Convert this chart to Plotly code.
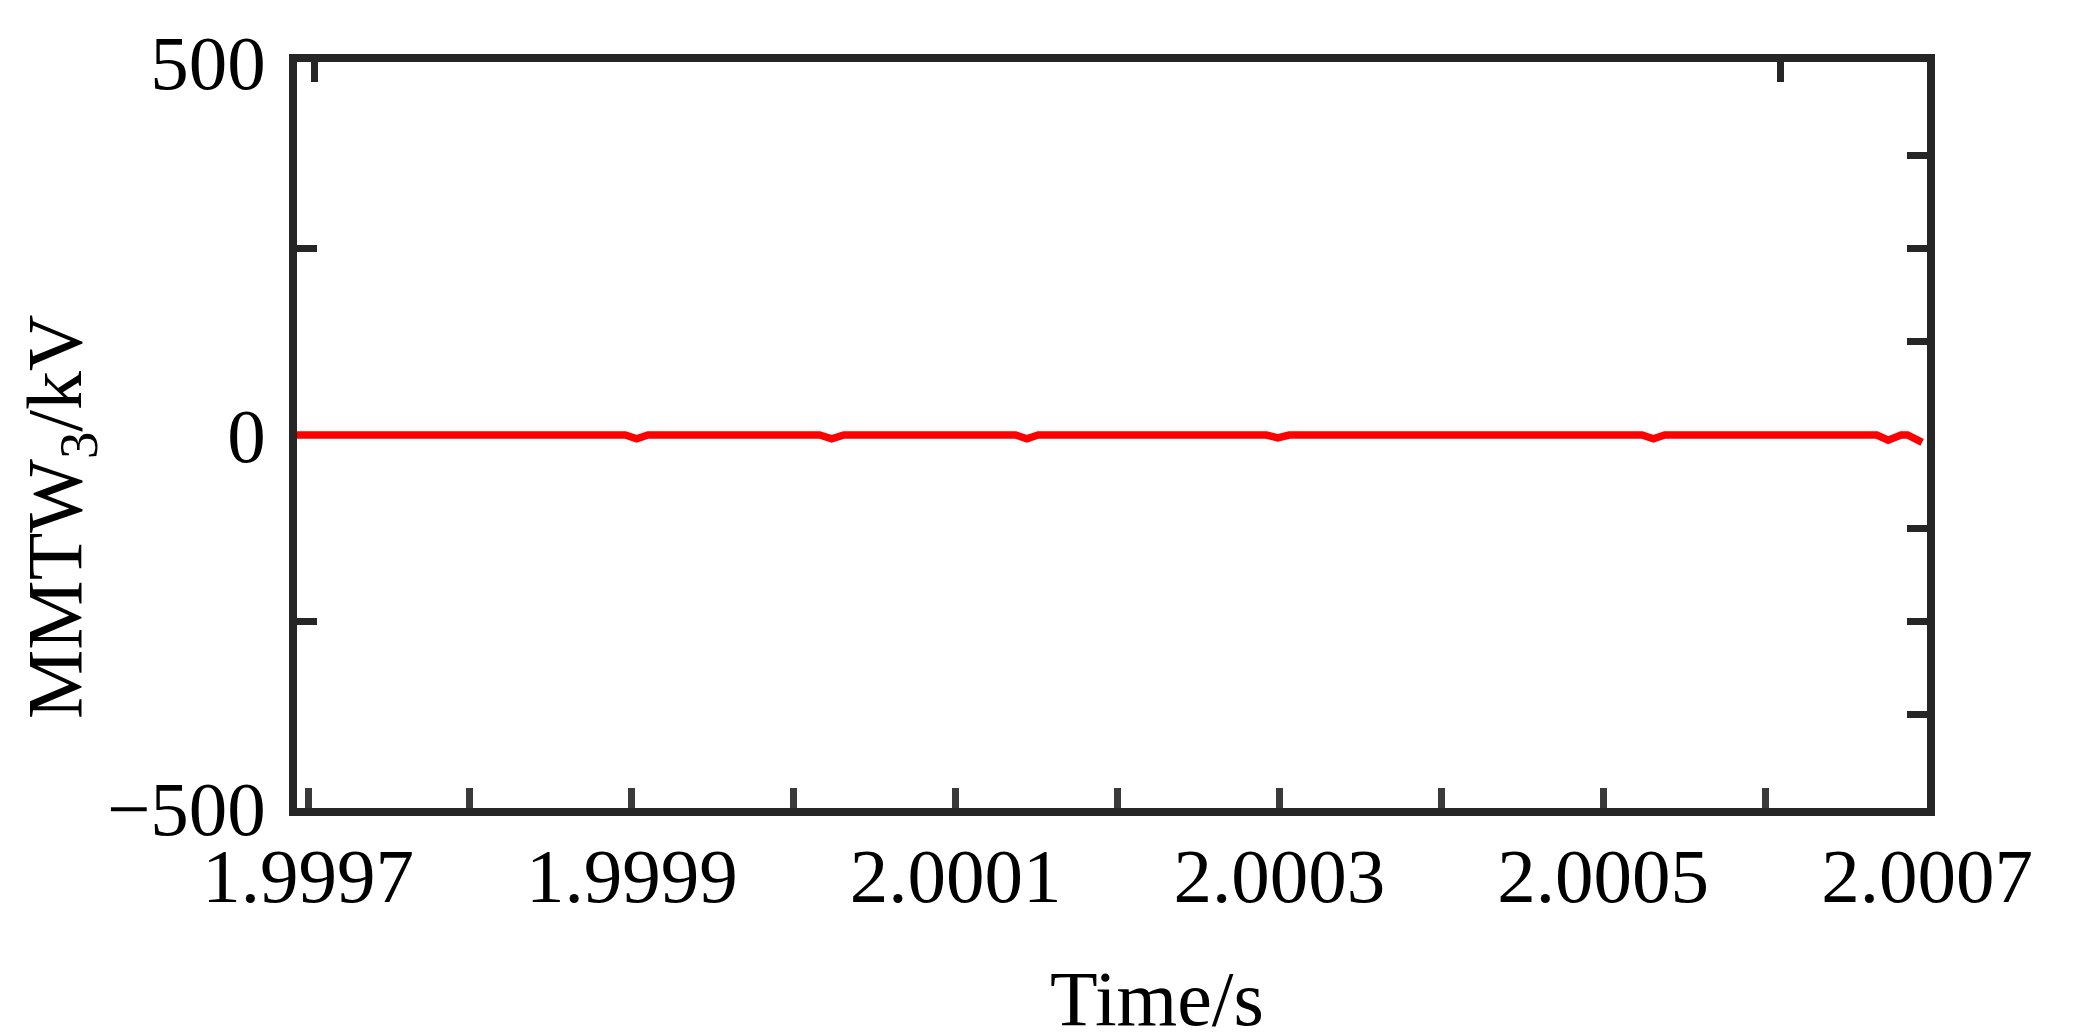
import plotly.graph_objects as go

# time (s) and MMTW3 (kV)
time_s = [1.99968, 1.999896, 1.999903, 1.999910, 2.000016, 2.0000235, 2.000031,
          2.000137, 2.000144, 2.000151, 2.000292, 2.000299, 2.000306,
          2.000524, 2.000531, 2.000538, 2.000669, 2.000676, 2.000684,
          2.000688, 2.000697]
mmtw3_kv = [0, 0, -5, 0, 0, -5, 0,
            0, -5, 0, 0, -4, 0,
            0, -5, 0, 0, -7, 0,
            0, -10]

x_ticks = [1.9997, 1.9999, 2.0001, 2.0003, 2.0005, 2.0007]
x_labels = ['1.9997', '1.9999', '2.0001', '2.0003', '2.0005', '2.0007']
x_minor = [1.9998, 2.0000, 2.0002, 2.0004, 2.0006]
x_top_ticks = [1.9997037, 2.0006094]
y_ticks = [-500, 0, 500]
y_labels = ['\u2212500', '0', '500']
y_minor = [-250, 250]
y_right_ticks = [-375, -250, -125, 125, 250, 375]

x_range = [1.9996932, 2.0007]
y_range = [-500, 500]

frame = '#262626'
font = 'Liberation Serif, Times New Roman, serif'

fig = go.Figure()
fig.add_trace(go.Scatter(x=time_s, y=mmtw3_kv, mode='lines',
                         line=dict(color='#ff0000', width=7.5),
                         showlegend=False, hoverinfo='skip'))
# hidden copy so the top/right tick axes get drawn
fig.add_trace(go.Scatter(x=time_s, y=mmtw3_kv, mode='lines', xaxis='x2', yaxis='y2',
                         line=dict(color='rgba(0,0,0,0)', width=0),
                         showlegend=False, hoverinfo='skip'))

# the page body has an 8px margin, so the figure is 16px smaller and shifted
fig.update_layout(
    width=2065, height=1025,
    margin=dict(l=289, r=146, t=51, b=225),
    paper_bgcolor='white', plot_bgcolor='white',
    font=dict(family=font, size=77, color='black'),
    xaxis=dict(range=x_range, tickvals=x_ticks, ticktext=x_labels,
               showgrid=False, zeroline=False,
               showline=True, linewidth=7.5, linecolor=frame, mirror=True,
               ticks='inside', ticklen=20, tickwidth=7, tickcolor='#3a3a3a',
               ticklabelstandoff=-6,
               minor=dict(tickvals=x_minor, ticks='inside', ticklen=20,
                          tickwidth=7, tickcolor='#3a3a3a', showgrid=False),
               tickfont=dict(family=font, size=77, color='black')),
    yaxis=dict(range=y_range, tickvals=y_ticks, ticktext=y_labels,
               showgrid=False, zeroline=False,
               showline=True, linewidth=7.5, linecolor=frame, mirror=True,
               ticks='', ticklabelstandoff=8,
               minor=dict(tickvals=y_minor, ticks='inside', ticklen=20,
                          tickwidth=7, tickcolor=frame, showgrid=False),
               tickfont=dict(family=font, size=77, color='black')),
    xaxis2=dict(range=x_range, overlaying='x', side='top', anchor='y2',
                tickvals=x_top_ticks, showticklabels=False,
                showgrid=False, zeroline=False, showline=False,
                ticks='inside', ticklen=20, tickwidth=7, tickcolor=frame),
    yaxis2=dict(range=y_range, overlaying='y', side='right', anchor='x2',
                tickvals=y_right_ticks, showticklabels=False,
                showgrid=False, zeroline=False, showline=False,
                ticks='inside', ticklen=20, tickwidth=7, tickcolor=frame),
    annotations=[
        dict(text='Time/s', xref='paper', yref='paper', x=0.5276, y=-0.256,
             xanchor='center', yanchor='middle', showarrow=False,
             font=dict(family=font, size=78, color='black')),
        dict(text='MMTW<sub>3</sub>/kV', xref='paper', yref='paper', x=-0.1454, y=0.39,
             xanchor='center', yanchor='middle', textangle=-90, showarrow=False,
             font=dict(family=font, size=78, color='black')),
    ],
)

fig.write_html('out.html')
